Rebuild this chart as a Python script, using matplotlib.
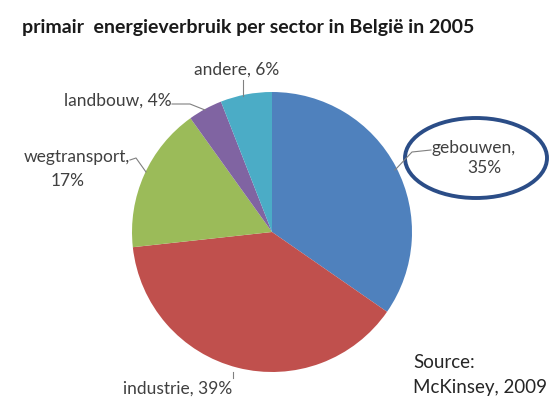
import matplotlib.pyplot as plt
from matplotlib.patches import Ellipse

plt.rcParams['font.family'] = ['Lato', 'DejaVu Sans']

# data
sectors = ['gebouwen', 'industrie', 'wegtransport', 'landbouw', 'andere']
shares = [35, 39, 17, 4, 6]
colors = ['#4F81BD', '#C0504D', '#9BBB59', '#8064A2', '#4BACC6']
title = 'primair  energieverbruik per sector in België in 2005'

H = 405
fig = plt.figure(figsize=(5.52, 4.05), dpi=100)
ax = fig.add_axes([0, 0, 1, 1])

ax.pie(shares, colors=colors, startangle=90, counterclock=False,
       center=(272, H - 232), radius=140, frame=True,
       wedgeprops=dict(linewidth=0))
ax.set_xlim(0, 552)
ax.set_ylim(0, H)
ax.set_aspect('equal')
ax.axis('off')

txt = dict(fontsize=12.5, color='#404040')
grey = '#808080'

# labels (pixel positions from the picture, y measured from top)
ax.text(431, H - 148, 'gebouwen,', ha='left', va='center', **txt)
ax.text(484, H - 168, '35%', ha='center', va='center', **txt)
ax.plot([395, 412, 431], [H - 170, H - 152, H - 150], color=grey, lw=0.8)
ax.add_patch(Ellipse((476, H - 158), 142, 80, fill=False,
                     edgecolor='#2B4D87', lw=2.8))

ax.text(178, H - 389, 'industrie, 39%', ha='center', va='center', **txt)
ax.plot([233, 233], [H - 372, H - 378], color=grey, lw=0.8)

ax.text(130, H - 157, 'wegtransport,', ha='right', va='center', **txt)
ax.text(68, H - 181, '17%', ha='center', va='center', **txt)
ax.plot([130, 136, 146], [H - 160, H - 158, H - 172], color=grey, lw=0.8)

ax.text(172, H - 101, 'landbouw, 4%', ha='right', va='center', **txt)
ax.plot([172, 190, 205], [H - 104, H - 104, H - 110], color=grey, lw=0.8)

ax.text(237, H - 70, 'andere, 6%', ha='center', va='center', **txt)
ax.plot([243, 243], [H - 80, H - 96], color=grey, lw=0.8)

ax.text(22, H - 28, title, ha='left', va='center', fontsize=14,
        fontweight='bold', color='#1a1a1a')

ax.text(413, H - 362, 'Source:', ha='left', va='center', fontsize=13.5, color='#262626')
ax.text(413, H - 387, 'McKinsey, 2009', ha='left', va='center', fontsize=13.5, color='#262626')

fig.savefig('out.png', dpi=100)
